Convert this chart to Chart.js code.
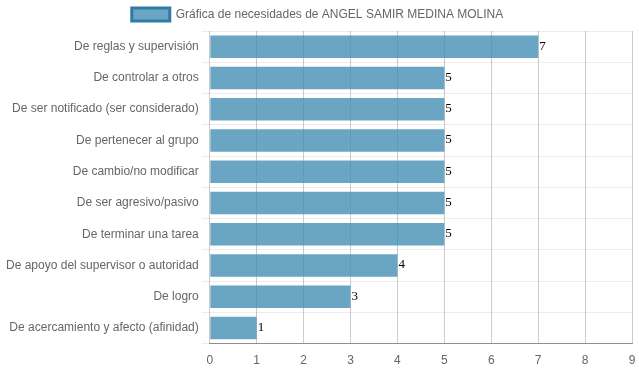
<!DOCTYPE html>
<html>
<head>
<meta charset="utf-8">
<script src="https://cdn.jsdelivr.net/npm/chart.js@4"></script>
<style>
  html, body { margin: 0; padding: 0; background: #fff; }
  #wrap { width: 639px; height: 372px; }
</style>
</head>
<body>
<div id="wrap"><canvas id="needsChart" width="639" height="372"></canvas></div>
<script>
// Categories and values
const categories = [
  "De reglas y supervisión",
  "De controlar a otros",
  "De ser notificado (ser considerado)",
  "De pertenecer al grupo",
  "De cambio/no modificar",
  "De ser agresivo/pasivo",
  "De terminar una tarea",
  "De apoyo del supervisor o autoridad",
  "De logro",
  "De acercamiento y afecto (afinidad)"
];
const values = [7, 5, 5, 5, 5, 5, 5, 4, 3, 1];
const seriesLabel = "Gráfica de necesidades de ANGEL SAMIR MEDINA MOLINA";
const axisMin = 0;
const axisMax = 9;

// Write the value at the end of each bar
const valueLabels = {
  id: 'valueLabels',
  afterDatasetsDraw(chart) {
    const ctx = chart.ctx;
    const meta = chart.getDatasetMeta(0);
    ctx.save();
    ctx.font = '13px "Liberation Serif", serif';
    ctx.fillStyle = '#000';
    ctx.textAlign = 'left';
    ctx.textBaseline = 'alphabetic';
    meta.data.forEach((bar, i) => {
      ctx.fillText(String(values[i]), bar.x + 1, bar.y + 3);
    });
    ctx.restore();
  }
};

Chart.defaults.font.family = '"Liberation Sans", Arial, sans-serif';
Chart.defaults.font.size = 12;
Chart.defaults.color = '#666';

new Chart(document.getElementById('needsChart'), {
  type: 'bar',
  data: {
    labels: categories,
    datasets: [{
      label: seriesLabel,
      data: values,
      backgroundColor: 'rgba(69, 144, 181, 0.8)',
      borderColor: '#2f7ba6',
      borderWidth: 0
    }]
  },
  options: {
    indexAxis: 'y',
    responsive: false,
    animation: false,
    layout: { padding: { top: 0, right: 7, bottom: -6, left: 3 } },
    plugins: {
      tooltip: { enabled: false },
      legend: {
        labels: {
          boxWidth: 38,
          boxHeight: 13,
          padding: 8,
          generateLabels(chart) {
            return [{
              text: seriesLabel,
              fillStyle: 'rgba(69, 144, 181, 0.8)',
              strokeStyle: '#2f7ba6',
              lineWidth: 3,
              fontColor: '#666',
              datasetIndex: 0
            }];
          }
        }
      }
    },
    scales: {
      x: {
        min: axisMin,
        max: axisMax,
        ticks: { stepSize: 1, padding: 10 },
        grid: { color: 'rgba(0,0,0,0.2)', drawTicks: false },
        border: { color: 'rgba(0,0,0,0.4)' },
        afterFit(scale) { scale.paddingRight = 0; }
      },
      y: {
        ticks: { padding: 3 },
        grid: { color: 'rgba(0,0,0,0.07)', tickLength: 8 },
        border: { display: false }
      }
    }
  },
  plugins: [valueLabels]
});
</script>
</body>
</html>
